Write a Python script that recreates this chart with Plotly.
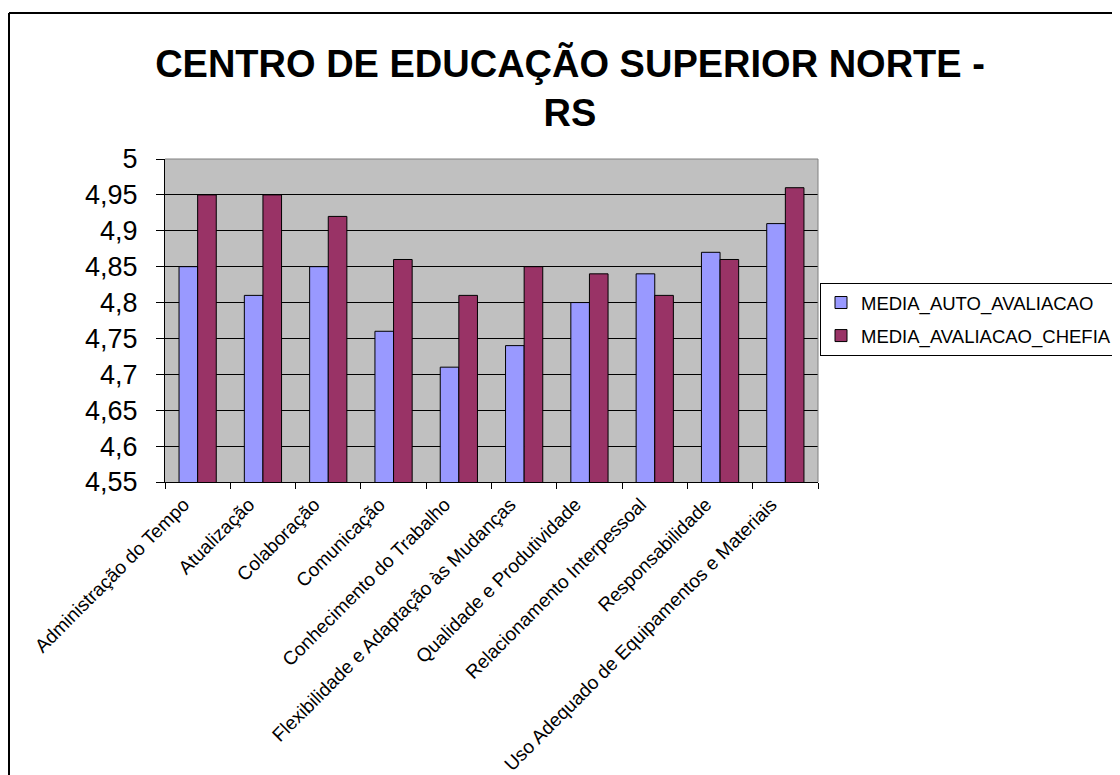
import plotly.graph_objects as go

categories = [
    "Administração do Tempo",
    "Atualização",
    "Colaboração",
    "Comunicação",
    "Conhecimento do Trabalho",
    "Flexibilidade e Adaptação às Mudanças",
    "Qualidade e Produtividade",
    "Relacionamento Interpessoal",
    "Responsabilidade",
    "Uso Adequado de Equipamentos e Materiais",
]
media_auto = [4.85, 4.81, 4.85, 4.76, 4.71, 4.74, 4.80, 4.84, 4.87, 4.91]
media_chefia = [4.95, 4.95, 4.92, 4.86, 4.81, 4.85, 4.84, 4.81, 4.86, 4.96]
y_tickvals = [4.55, 4.6, 4.65, 4.7, 4.75, 4.8, 4.85, 4.9, 4.95, 5.0]
y_ticktext = ["4,55", "4,6", "4,65", "4,7", "4,75", "4,8", "4,85", "4,9", "4,95", "5"]

W, H = 1120, 775
O = 8  # page offset (body margin)
L, T = 165 - O, 159 - O
RX, BY = 818 - O, 482 - O
R, B = W - RX, H - BY
pw, ph = RX - L, BY - T

def px_x(px):
    return (px - L) / pw

def px_y(py):
    return (BY - py) / ph

fig = go.Figure()
fig.add_trace(go.Bar(
    x=categories, y=media_auto, name="MEDIA_AUTO_AVALIACAO",
    marker=dict(color="#9999FF", line=dict(color="black", width=1)),
    legendgroup="a",
))
fig.add_trace(go.Bar(
    x=categories, y=media_chefia, name="MEDIA_AVALIACAO_CHEFIA",
    marker=dict(color="#993366", line=dict(color="black", width=1)),
    legendgroup="b",
))

fig.update_layout(
    width=W, height=H,
    margin=dict(l=L, r=R, t=T, b=B, autoexpand=False),
    paper_bgcolor="white",
    plot_bgcolor="#C0C0C0",
    font=dict(family="Liberation Sans, Arial, sans-serif", color="black"),
    barmode="group",
    bargap=0.43,
    bargroupgap=0,
    title=dict(
        text="<b>CENTRO DE EDUCAÇÃO SUPERIOR NORTE -<br>RS</b>",
        x=(570 - O) / W, xref="container", xanchor="center",
        y=1 - 69 / H, yref="container", yanchor="top",
        font=dict(size=38, family="Liberation Sans, Arial, sans-serif", color="black"),
    ),
    legend=dict(
        x=px_x(820 - O), xanchor="left",
        y=px_y(283 - O), yanchor="top",
        bordercolor="black", borderwidth=1,
        bgcolor="white",
        font=dict(size=18.5),
        traceorder="grouped",
        tracegroupgap=6,
        itemwidth=30,
    ),
    showlegend=True,
)

fig.update_yaxes(
    range=[4.55, 5.0],
    tickmode="array", tickvals=y_tickvals, ticktext=y_ticktext,
    showgrid=True, gridcolor="black", gridwidth=1,
    zeroline=False,
    showline=True, linecolor="black", linewidth=1,
    ticks="outside", ticklen=8, tickcolor="black",
    ticklabelstandoff=13,
    tickfont=dict(size=27),
)
fig.update_xaxes(
    showgrid=False,
    showline=True, linecolor="black", linewidth=1,
    ticks="outside", ticklen=6, tickcolor="black",
    tickson="boundaries",
    tickangle=-45,
    ticklabelshift=-14,
    ticklabelstandoff=3,
    tickfont=dict(size=19),
)

# plot area top/right border (grey) and outer chart border
fig.add_shape(type="line", xref="paper", yref="paper", x0=0, x1=1, y0=1, y1=1,
              line=dict(color="#808080", width=1))
fig.add_shape(type="line", xref="paper", yref="paper", x0=1, x1=1, y0=0, y1=1,
              line=dict(color="#808080", width=1))
fig.add_shape(type="line", xref="paper", yref="paper",
              x0=px_x(1), x1=px_x(1200), y0=px_y(5), y1=px_y(5),
              line=dict(color="black", width=2))
fig.add_shape(type="line", xref="paper", yref="paper",
              x0=px_x(1), x1=px_x(1), y0=px_y(5), y1=px_y(900),
              line=dict(color="black", width=2))

fig.write_html("out.html")
